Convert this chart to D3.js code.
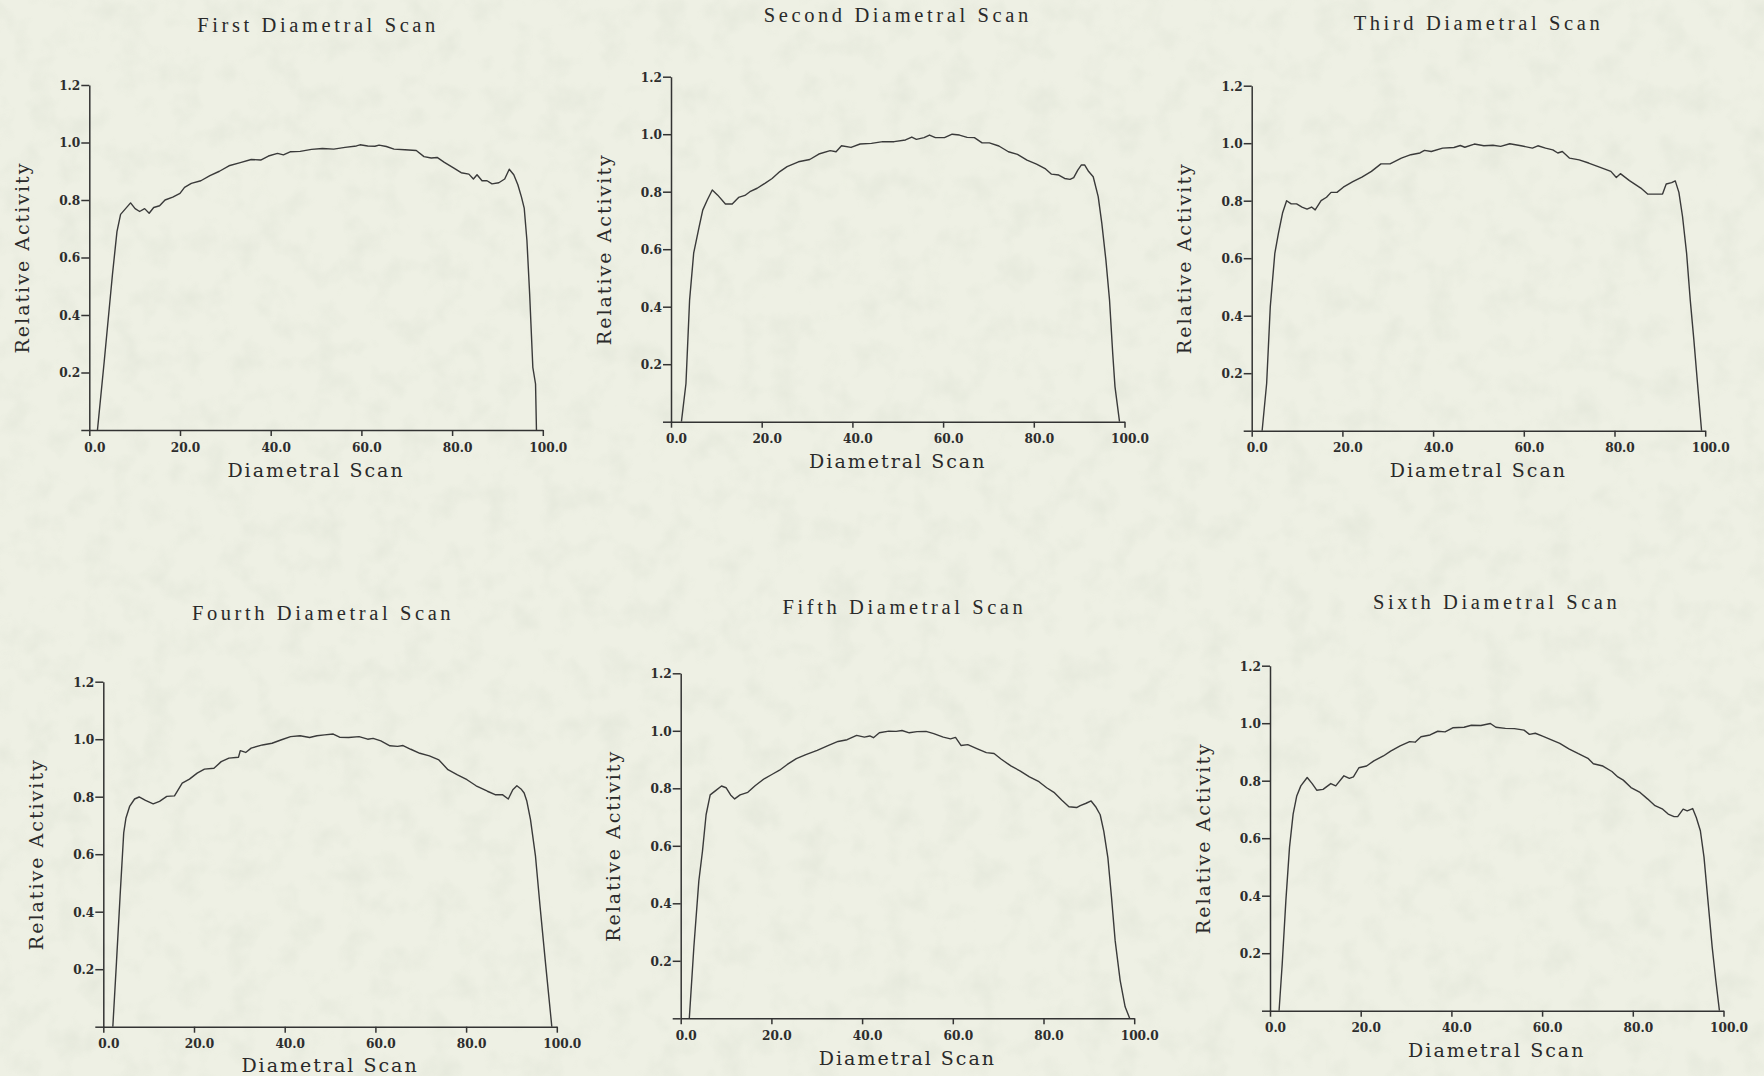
<!DOCTYPE html>
<html>
<head>
<meta charset="utf-8">
<script src="https://cdn.jsdelivr.net/npm/d3@7"></script>
<style>
  html, body { margin: 0; padding: 0; background: #eef0e4; }
  svg { display: block; }
  .title { font-family: "Liberation Serif", "DejaVu Serif", serif; font-size: 20.5px; fill: #2a2a2a; }
  .axis-title { font-family: "DejaVu Serif", "Liberation Serif", serif; font-size: 19px; fill: #2a2a2a; }
  .tick text { font-family: "DejaVu Serif Condensed", "DejaVu Serif", serif; font-stretch: condensed; font-weight: bold; font-size: 13.5px; fill: #2d2d2d; }
  .axis path, .axis line { stroke: #333; stroke-width: 1.5; }
  .trace { fill: none; stroke: #3a3a3a; stroke-width: 1.4; stroke-linejoin: round; }
</style>
</head>
<body>
<svg id="chart" width="1764" height="1076"></svg>
<script>
// Relative activity profiles along six diametral scans: [position, relative activity]
const scan1 = [
  [1.8,0],[3.3,0.24],[5.1,0.54],[6.1,0.69],[6.9,0.75],[8.0,0.77],[9.1,0.79],[10.1,0.77],
  [11.1,0.76],[12.2,0.77],[13.2,0.754],[14.2,0.774],[15.5,0.78],[16.7,0.80],[18.4,0.81],
  [20.0,0.823],[21.0,0.844],[22.5,0.858],[24.6,0.867],[26.6,0.885],[28.7,0.90],[30.8,0.919],
  [33.3,0.93],[35.7,0.941],[37.8,0.939],[39.5,0.953],[41.5,0.962],[42.8,0.957],[44.4,0.968],
  [46.5,0.969],[49.0,0.976],[51.4,0.979],[53.9,0.977],[56.4,0.983],[58.9,0.988],[59.7,0.992],
  [61.4,0.988],[63.0,0.987],[63.9,0.991],[65.5,0.986],[67.2,0.977],[69.6,0.975],[72.1,0.972],
  [73.8,0.951],[75.4,0.946],[76.7,0.948],[78.3,0.931],[80.4,0.911],[82.0,0.895],[83.7,0.89],
  [84.7,0.873],[85.5,0.888],[86.6,0.867],[87.7,0.867],[88.8,0.856],[90.3,0.86],[91.6,0.873],
  [92.6,0.907],[93.6,0.888],[94.5,0.853],[95.3,0.81],[95.9,0.772],[96.5,0.659],[97.1,0.473],
  [97.8,0.218],[98.4,0.16],[98.6,0]
];
const scan2 = [
  [2.3,0],[3.3,0.133],[4.1,0.423],[5.0,0.586],[6.2,0.678],[7.0,0.736],[8.0,0.771],[9.1,0.806],
  [10.3,0.788],[12.0,0.757],[13.5,0.757],[14.9,0.78],[16.3,0.787],[17.4,0.80],[19.0,0.812],
  [20.7,0.829],[22.3,0.846],[24.0,0.87],[25.6,0.887],[28.1,0.904],[30.6,0.912],[32.6,0.931],
  [35.1,0.943],[36.4,0.939],[37.6,0.96],[39.7,0.954],[41.7,0.966],[44.2,0.968],[46.7,0.974],
  [49.2,0.974],[51.7,0.98],[53.1,0.99],[54.1,0.982],[55.8,0.988],[57.0,0.997],[58.3,0.988],
  [60.3,0.988],[62.0,1.0],[63.6,0.997],[65.3,0.989],[66.9,0.988],[68.6,0.97],[70.2,0.97],
  [72.3,0.959],[74.4,0.939],[76.4,0.93],[78.5,0.91],[80.6,0.896],[82.6,0.879],[83.9,0.861],
  [85.5,0.858],[86.8,0.846],[88.0,0.843],[88.8,0.849],[89.7,0.875],[90.5,0.893],[91.2,0.893],
  [92.1,0.87],[93.1,0.852],[94.2,0.783],[95.0,0.69],[95.9,0.562],[96.7,0.423],[97.4,0.238],
  [97.9,0.122],[98.9,0]
];
const scan3 = [
  [2.3,0],[3.3,0.165],[4.1,0.432],[5.1,0.617],[5.9,0.687],[6.8,0.757],[7.7,0.80],[8.7,0.789],
  [9.9,0.789],[11.1,0.778],[12.2,0.771],[13.2,0.778],[14.0,0.768],[15.3,0.80],[16.5,0.812],
  [17.5,0.829],[18.8,0.829],[20.2,0.847],[22.3,0.866],[24.3,0.882],[26.4,0.902],[28.5,0.928],
  [30.5,0.928],[33.0,0.948],[35.1,0.96],[37.1,0.966],[38.1,0.975],[39.6,0.971],[42.1,0.983],
  [44.6,0.985],[46.0,0.992],[47.0,0.986],[49.1,0.997],[51.2,0.991],[53.2,0.993],[54.9,0.989],
  [56.9,0.998],[59.4,0.991],[61.9,0.983],[63.1,0.991],[64.8,0.983],[66.4,0.977],[67.5,0.966],
  [68.5,0.971],[70.1,0.948],[72.2,0.942],[74.3,0.931],[76.7,0.917],[79.2,0.902],[80.4,0.881],
  [81.3,0.894],[83.3,0.87],[85.8,0.844],[87.3,0.823],[89.1,0.823],[90.6,0.823],[91.4,0.858],
  [92.6,0.863],[93.4,0.869],[94.2,0.829],[95.0,0.745],[95.9,0.617],[96.7,0.455],[97.5,0.316],
  [98.3,0.165],[99.2,0]
];
const scan4 = [
  [2.1,0],[2.9,0.223],[3.7,0.454],[4.5,0.674],[5.0,0.726],[5.8,0.766],[6.9,0.792],[7.9,0.799],
  [9.3,0.787],[11.0,0.775],[12.4,0.784],[14.0,0.801],[15.7,0.803],[17.4,0.847],[19.0,0.861],
  [20.7,0.882],[22.3,0.896],[24.4,0.899],[26.0,0.922],[27.7,0.934],[29.8,0.937],[30.2,0.96],
  [31.4,0.954],[32.6,0.969],[35.1,0.98],[37.2,0.986],[39.3,0.998],[41.3,1.009],[43.4,1.012],
  [45.5,1.006],[47.1,1.012],[48.8,1.015],[50.7,1.018],[52.1,1.007],[54.1,1.006],[56.4,1.009],
  [58.3,1.0],[59.5,1.003],[61.2,0.994],[63.2,0.977],[64.9,0.975],[66.1,0.978],[67.8,0.965],
  [69.8,0.951],[71.9,0.942],[74.0,0.928],[76.0,0.894],[78.1,0.876],[80.2,0.859],[82.2,0.838],
  [84.7,0.819],[86.4,0.807],[88.0,0.807],[89.3,0.792],[90.3,0.824],[91.2,0.838],[92.1,0.827],
  [92.8,0.813],[93.4,0.784],[94.2,0.72],[95.3,0.593],[96.3,0.42],[97.5,0.223],[98.3,0.096],
  [98.9,0]
];
const scan5 = [
  [1.9,0],[2.9,0.247],[4.0,0.478],[4.8,0.581],[5.6,0.708],[6.5,0.777],[7.7,0.792],[9.0,0.808],
  [10.0,0.802],[11.0,0.777],[11.9,0.763],[13.1,0.777],[14.8,0.786],[16.4,0.809],[18.5,0.834],
  [20.1,0.848],[21.8,0.863],[23.5,0.883],[25.5,0.903],[27.6,0.917],[30.1,0.932],[32.6,0.949],
  [34.7,0.963],[36.7,0.969],[38.8,0.984],[40.5,0.978],[41.7,0.982],[42.5,0.976],[43.8,0.993],
  [45.9,0.999],[47.5,0.998],[48.8,1.001],[50.4,0.993],[52.1,0.997],[54.1,0.998],[55.8,0.99],
  [57.9,0.978],[59.5,0.972],[60.6,0.977],[61.8,0.949],[63.3,0.952],[65.3,0.938],[67.4,0.924],
  [69.1,0.921],[70.7,0.901],[72.8,0.878],[74.9,0.86],[76.9,0.84],[79.0,0.823],[80.7,0.802],
  [82.3,0.786],[84.0,0.759],[85.6,0.736],[87.3,0.733],[88.1,0.74],[89.4,0.748],[90.5,0.756],
  [91.5,0.736],[92.5,0.708],[93.3,0.65],[94.2,0.558],[95.0,0.42],[95.8,0.27],[96.9,0.132],
  [98.0,0.04],[99.0,0]
];
const scan6 = [
  [2.0,0],[2.7,0.164],[3.5,0.383],[4.3,0.568],[5.1,0.684],[5.9,0.747],[6.8,0.782],[8.2,0.811],
  [9.3,0.79],[10.3,0.767],[11.7,0.77],[13.4,0.79],[14.5,0.782],[16.3,0.817],[17.5,0.808],
  [18.4,0.813],[19.6,0.845],[21.3,0.851],[22.9,0.869],[25.0,0.886],[26.6,0.903],[28.7,0.921],
  [30.8,0.936],[32.0,0.934],[33.3,0.953],[35.3,0.959],[37.0,0.972],[38.6,0.97],[40.3,0.984],
  [42.8,0.986],[44.4,0.993],[46.5,0.992],[48.6,0.999],[49.8,0.986],[51.9,0.982],[53.9,0.981],
  [56.0,0.976],[57.2,0.961],[58.5,0.965],[60.1,0.955],[61.8,0.944],[63.9,0.93],[65.9,0.911],
  [68.0,0.894],[70.1,0.878],[71.3,0.859],[73.4,0.851],[75.4,0.832],[76.7,0.813],[77.9,0.802],
  [79.6,0.776],[81.6,0.759],[83.3,0.736],[84.9,0.713],[86.6,0.701],[87.8,0.684],[89.1,0.675],
  [89.9,0.675],[91.1,0.701],[92.0,0.695],[93.2,0.703],[94.0,0.672],[94.9,0.626],[95.7,0.534],
  [96.5,0.395],[97.5,0.222],[98.3,0.106],[99.1,0]
];

const titles = [
  "First Diametral Scan", "Second Diametral Scan", "Third Diametral Scan",
  "Fourth Diametral Scan", "Fifth Diametral Scan", "Sixth Diametral Scan"
];
const scans = [scan1, scan2, scan3, scan4, scan5, scan6];
const xTicks = [0, 20, 40, 60, 80, 100];
const yTicks = [0, 0.2, 0.4, 0.6, 0.8, 1.0, 1.2];
const xAxisLabel = "Diametral Scan";
const yAxisLabel = "Relative Activity";

// Frame placement for each small multiple (plot origin, title and label rows)
const frames = [
  { left: 89.3,   bottom: 430.0,  titleY: 25,    titleDx: 2,  xLabelY: 470 },
  { left: 671.0,  bottom: 421.7,  titleY: 15,    titleDx: 0,  xLabelY: 461.7 },
  { left: 1251.7, bottom: 430.7,  titleY: 23.3,  titleDx: 0,  xLabelY: 470 },
  { left: 103.3,  bottom: 1026.7, titleY: 613.3, titleDx: -7, xLabelY: 1065 },
  { left: 680.7,  bottom: 1018.3, titleY: 606.7, titleDx: -3, xLabelY: 1058 },
  { left: 1270.0, bottom: 1010.7, titleY: 601.7, titleDx: 0,  xLabelY: 1050 }
];
const plotW = 453.5, plotH = 345;

const svg = d3.select("#chart");

// faint paper grain behind the plots
const defs = svg.append("defs");
const grain = defs.append("filter").attr("id", "grain")
  .attr("x", 0).attr("y", 0).attr("width", "100%").attr("height", "100%");
grain.append("feTurbulence").attr("type", "fractalNoise")
  .attr("baseFrequency", 0.035).attr("numOctaves", 3).attr("seed", 7);
grain.append("feColorMatrix").attr("type", "matrix")
  .attr("values", "0 0 0 0 0.55  0 0 0 0 0.6  0 0 0 0 0.5  0 0 0 -1.1 0.6");
svg.append("rect").attr("width", 1764).attr("height", 1076).attr("fill", "#eef0e4");
svg.append("rect").attr("width", 1764).attr("height", 1076)
  .attr("filter", "url(#grain)").attr("opacity", 0.35);

scans.forEach((data, i) => {
  const f = frames[i];
  const g = svg.append("g").attr("transform", `translate(${f.left},${f.bottom - plotH})`);
  const x = d3.scaleLinear().domain([0, 100]).range([0, plotW]);
  const y = d3.scaleLinear().domain([0, 1.2]).range([plotH, 0]);

  // y axis: unlabeled tick at zero forms the short stub left of the origin
  g.append("g").attr("class", "axis")
    .call(d3.axisLeft(y).tickValues(yTicks).tickSize(8).tickSizeOuter(0).tickPadding(1)
      .tickFormat(d => d === 0 ? "" : d3.format(".1f")(d)));

  g.append("g").attr("class", "axis")
    .attr("transform", `translate(0,${plotH})`)
    .call(d3.axisBottom(x).tickValues(xTicks).tickSize(6).tickSizeOuter(0).tickPadding(6)
      .tickFormat(d3.format(".1f")))
    .selectAll(".tick text").attr("dx", 5);

  const line = d3.line().x(d => x(d[0])).y(d => y(d[1]));
  g.append("path").datum(data).attr("class", "trace").attr("d", line);

  const cx = plotW / 2;
  svg.append("text").attr("class", "title")
    .attr("x", f.left + cx + f.titleDx).attr("y", f.titleY).attr("dy", "0.35em")
    .attr("text-anchor", "middle").attr("letter-spacing", 3.6)
    .text(titles[i]);

  svg.append("text").attr("class", "axis-title")
    .attr("x", f.left + cx).attr("y", f.xLabelY).attr("dy", "0.35em")
    .attr("text-anchor", "middle").attr("letter-spacing", 2)
    .text(xAxisLabel);

  svg.append("text").attr("class", "axis-title")
    .attr("transform", `translate(${f.left - 67},${f.bottom - plotH / 2}) rotate(-90)`)
    .attr("dy", "0.35em").attr("text-anchor", "middle").attr("letter-spacing", 2)
    .text(yAxisLabel);
});
</script>
</body>
</html>
